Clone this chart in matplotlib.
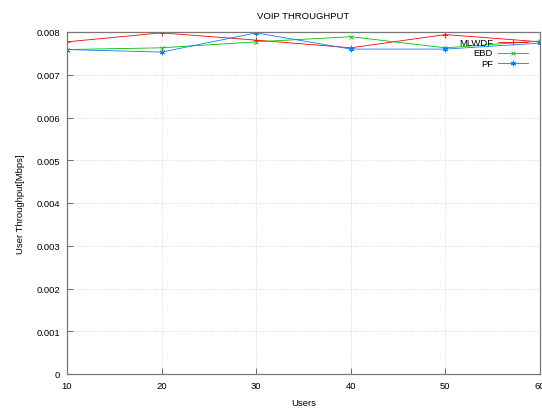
import matplotlib
matplotlib.use("Agg")
import matplotlib.pyplot as plt
from matplotlib.lines import Line2D

users = [10, 20, 30, 40, 50, 60]
mlwdf = [0.00777, 0.00798, 0.00781, 0.00763, 0.00794, 0.00777]
ebd = [0.00759, 0.00763, 0.00777, 0.00789, 0.00763, 0.00779]
pf = [0.00759, 0.00753, 0.00798, 0.00760, 0.00760, 0.00774]
yticks = [0, 0.001, 0.002, 0.003, 0.004, 0.005, 0.006, 0.007, 0.008]
xticks = [10, 20, 30, 40, 50, 60]
series = [('MLWDF', mlwdf, '#ff0000', '+', 5), ('EBD', ebd, '#00c000', 'x', 3.5),
          ('PF', pf, '#0080ff', (6, 2, 0), 4)]

plt.rcParams['font.family'] = ['Liberation Sans', 'DejaVu Sans']
fs = 6.8

fig = plt.figure(figsize=(5.42, 4.10), dpi=100)
ax = fig.add_axes([67/542, 35/410, (540-67)/542, (375-33)/410])

for name, vals, col, mk, ms in series:
    ax.plot(users, vals, color=col, lw=0.6, marker=mk, ms=ms, mew=0.6, label=name)

ax.set_xlim(10, 60)
ax.set_ylim(0, 0.008)
ax.set_xticks(xticks)
ax.set_yticks(yticks)
ax.set_yticklabels([('%g' % v) if v != 0 else '0' for v in yticks])
ax.tick_params(direction='in', length=4, width=0.6, labelsize=fs, colors='#555555', labelcolor='black', pad=5)
ax.grid(True, color='#bbbbbb', ls=(0, (1, 2)), lw=0.5)
for s in ax.spines.values():
    s.set_color('#777777')
    s.set_linewidth(0.9)

ax.set_title('VOIP THROUGHPUT', fontsize=fs, pad=10)
ax.set_xlabel('Users', fontsize=fs, labelpad=6)
ax.set_ylabel('User Throughput[Mbps]', fontsize=fs, labelpad=8)

# gnuplot-style legend: right-aligned labels followed by line samples
W, H = fig.bbox.width, fig.bbox.height
for i, (name, vals, col, mk, ms) in enumerate(series):
    yp = 43 + 10.7 * i
    yf = 1 - yp / H
    fig.text(493 / W, yf, name, fontsize=fs, ha='right', va='center')
    fig.add_artist(Line2D([498 / W, 528 / W], [yf, yf], color=col, lw=0.6))
    fig.add_artist(Line2D([513 / W], [yf], color=col, marker=mk, ms=ms, mew=0.6, lw=0))

fig.savefig('out.png', dpi=100)
